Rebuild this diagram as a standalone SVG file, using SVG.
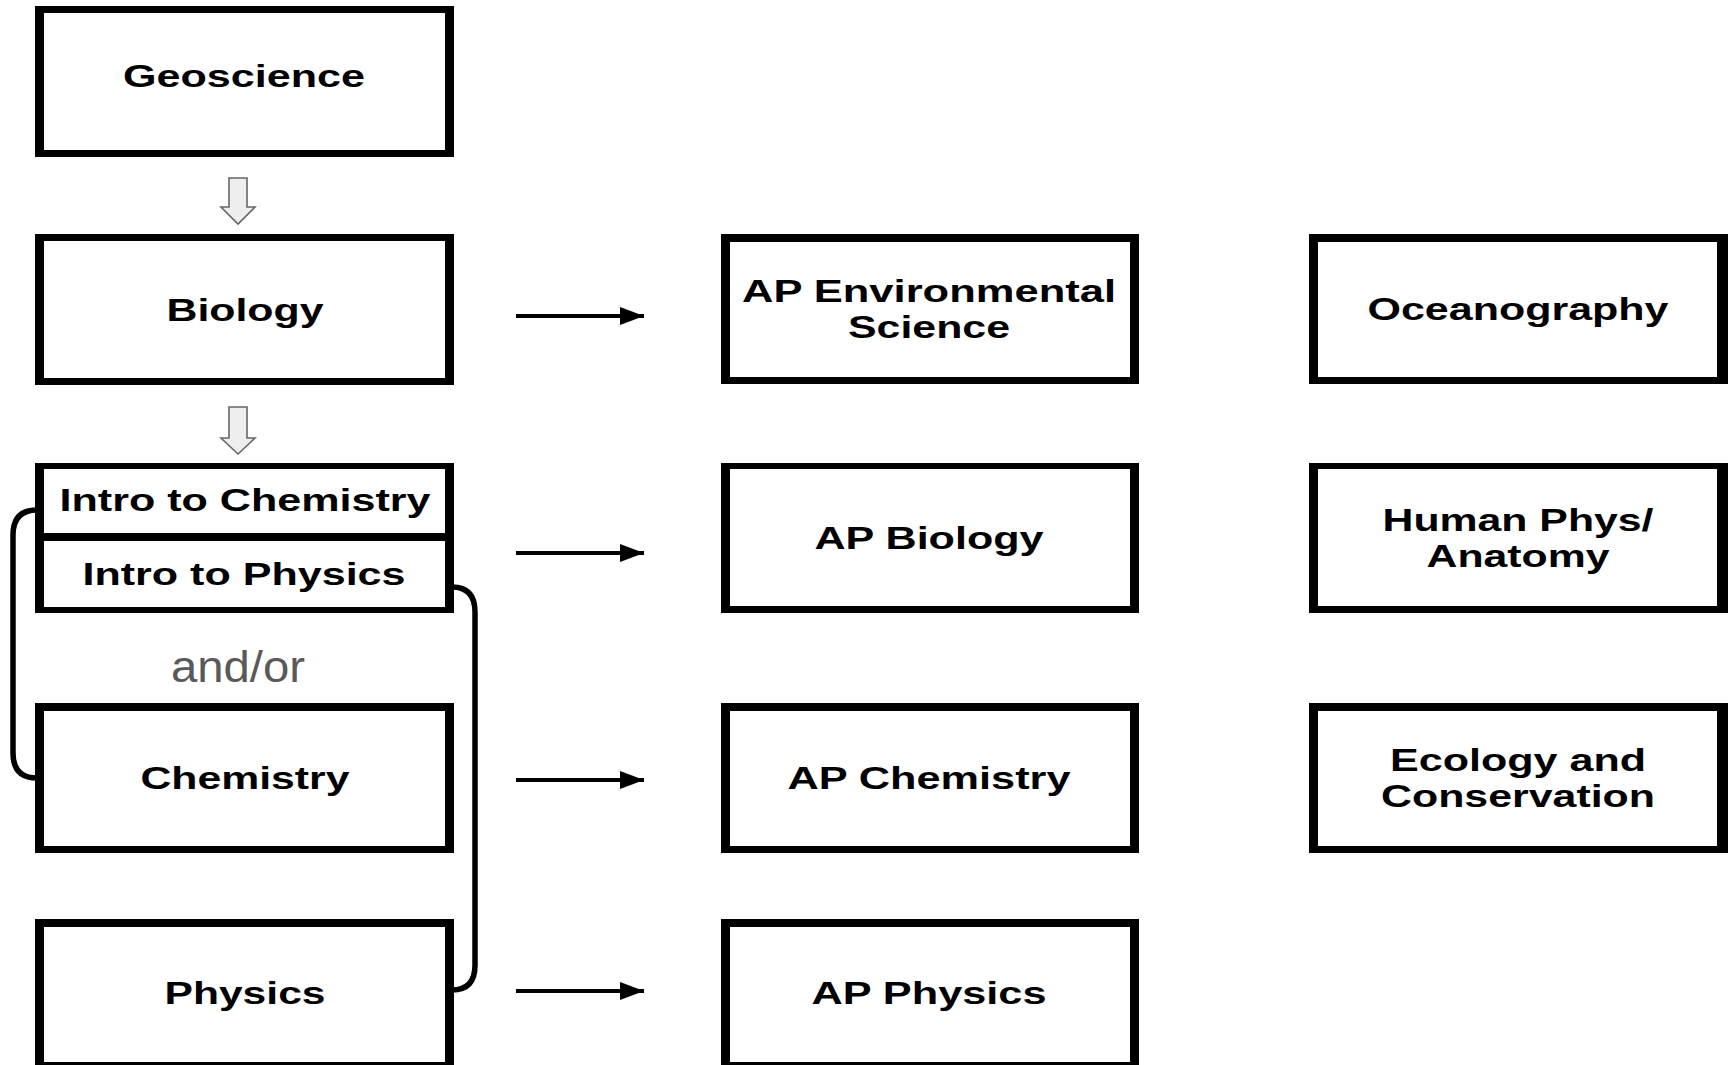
<svg xmlns="http://www.w3.org/2000/svg" width="1729" height="1065" viewBox="0 0 1729 1065">
<style>
.frame{fill:#000}
.inner{fill:#fff}
.lbl{font-family:"Liberation Sans",Arial,sans-serif;font-weight:bold;font-size:32px;fill:#000;text-anchor:middle}
.note{font-family:"Liberation Sans",Arial,sans-serif;font-size:45px;fill:#595959;text-anchor:middle}
.hollow{fill:#eeeeee;stroke:#666;stroke-width:1.6}
.link{fill:none;stroke:#000;stroke-width:4}
.bracket{fill:none;stroke:#000;stroke-width:5.5}
</style>
<defs>
<marker id="ah" markerUnits="userSpaceOnUse" markerWidth="26" markerHeight="20" refX="24" refY="9" orient="auto">
<path d="M0,0 L24,9 L0,18 Z" fill="#000"/>
</marker>
</defs>
<rect width="1729" height="1065" fill="#fff"/>

<g id="connectors">
<path class="hollow" d="M229,178 H247 V207 H255 L238,224 L221,207 H229 Z"/>
<path class="hollow" d="M229,407 H247 V438 H255 L238,454 L221,438 H229 Z"/>
<path class="link" d="M516,316 H644" marker-end="url(#ah)"/>
<path class="link" d="M516,553 H644" marker-end="url(#ah)"/>
<path class="link" d="M516,780 H644" marker-end="url(#ah)"/>
<path class="link" d="M516,991 H644" marker-end="url(#ah)"/>
<path class="bracket" d="M37,510 Q13,510 13,535 V753 Q13,778 37,778"/>
<path class="bracket" d="M452,587 Q475,587 475,612 V965 Q475,990 452,990"/>
</g>

<g id="geoscience">
<rect class="frame" x="35" y="6" width="419" height="151"/>
<rect class="inner" x="44" y="13" width="401" height="137"/>
<text class="lbl" x="244" y="87" textLength="242" lengthAdjust="spacingAndGlyphs">Geoscience</text>
</g>

<g id="biology">
<rect class="frame" x="35" y="234" width="419" height="151"/>
<rect class="inner" x="44" y="241" width="401" height="137"/>
<text class="lbl" x="245" y="321" textLength="157" lengthAdjust="spacingAndGlyphs">Biology</text>
</g>

<g id="intro">
<rect class="frame" x="35" y="463" width="419" height="150"/>
<rect class="inner" x="44" y="469" width="401" height="64"/>
<rect class="inner" x="44" y="541" width="401" height="66"/>
<text class="lbl" x="245" y="511" textLength="371" lengthAdjust="spacingAndGlyphs">Intro to Chemistry</text>
<text class="lbl" x="244" y="585" textLength="323" lengthAdjust="spacingAndGlyphs">Intro to Physics</text>
</g>

<g id="andor">
<text class="note" x="238" y="682" textLength="134" lengthAdjust="spacingAndGlyphs">and/or</text>
</g>

<g id="chemistry">
<rect class="frame" x="35" y="703" width="419" height="150"/>
<rect class="inner" x="44" y="711" width="401" height="135"/>
<text class="lbl" x="245" y="789" textLength="209" lengthAdjust="spacingAndGlyphs">Chemistry</text>
</g>

<g id="physics">
<rect class="frame" x="35" y="919" width="419" height="149"/>
<rect class="inner" x="44" y="927" width="401" height="135"/>
<text class="lbl" x="245" y="1004" textLength="161" lengthAdjust="spacingAndGlyphs">Physics</text>
</g>

<g id="ap-env">
<rect class="frame" x="721" y="234" width="418" height="150"/>
<rect class="inner" x="730" y="242" width="400" height="135"/>
<text class="lbl" x="929" y="302" textLength="374" lengthAdjust="spacingAndGlyphs">AP Environmental</text>
<text class="lbl" x="929" y="338" textLength="162" lengthAdjust="spacingAndGlyphs">Science</text>
</g>

<g id="ap-bio">
<rect class="frame" x="721" y="463" width="418" height="150"/>
<rect class="inner" x="730" y="469" width="400" height="137"/>
<text class="lbl" x="929" y="549" textLength="229" lengthAdjust="spacingAndGlyphs">AP Biology</text>
</g>

<g id="ap-chem">
<rect class="frame" x="721" y="703" width="418" height="150"/>
<rect class="inner" x="730" y="711" width="400" height="135"/>
<text class="lbl" x="929" y="789" textLength="283" lengthAdjust="spacingAndGlyphs">AP Chemistry</text>
</g>

<g id="ap-phys">
<rect class="frame" x="721" y="919" width="418" height="149"/>
<rect class="inner" x="730" y="927" width="400" height="135"/>
<text class="lbl" x="929" y="1004" textLength="235" lengthAdjust="spacingAndGlyphs">AP Physics</text>
</g>

<g id="oceanography">
<rect class="frame" x="1309" y="234" width="419" height="150"/>
<rect class="inner" x="1318" y="242" width="399" height="135"/>
<text class="lbl" x="1518" y="320" textLength="301" lengthAdjust="spacingAndGlyphs">Oceanography</text>
</g>

<g id="human-phys">
<rect class="frame" x="1309" y="463" width="419" height="150"/>
<rect class="inner" x="1318" y="469" width="399" height="137"/>
<text class="lbl" x="1518" y="531" textLength="271" lengthAdjust="spacingAndGlyphs">Human Phys/</text>
<text class="lbl" x="1518" y="567" textLength="183" lengthAdjust="spacingAndGlyphs">Anatomy</text>
</g>

<g id="ecology">
<rect class="frame" x="1309" y="703" width="419" height="150"/>
<rect class="inner" x="1318" y="711" width="399" height="135"/>
<text class="lbl" x="1518" y="771" textLength="256" lengthAdjust="spacingAndGlyphs">Ecology and</text>
<text class="lbl" x="1518" y="807" textLength="274" lengthAdjust="spacingAndGlyphs">Conservation</text>
</g>
</svg>
